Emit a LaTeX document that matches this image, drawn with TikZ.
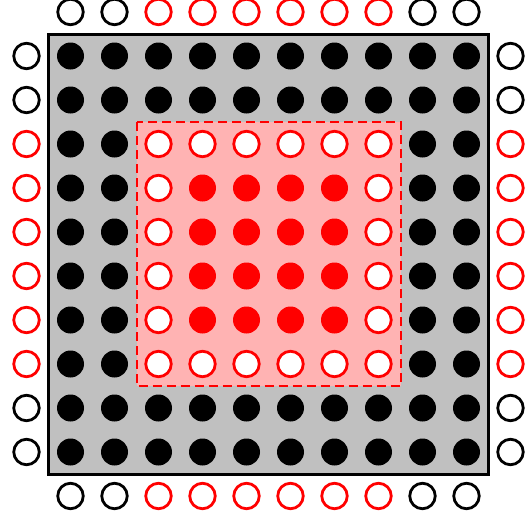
\documentclass[tikz,border=0pt]{standalone}
\usepackage{tikz}
\usetikzlibrary{positioning}
\usepackage{xcolor}
\definecolor{boardgray}{HTML}{C0C0C0}
\definecolor{zonepink}{HTML}{FFB3B3}

\begin{document}
\begin{tikzpicture}[
    x=44pt, y=-44pt,
    soliddot/.style={circle, fill=black, draw=none, inner sep=0pt, minimum size=27pt},
    reddot/.style={circle, fill=red, draw=none, inner sep=0pt, minimum size=27pt},
    redring/.style={circle, fill=white, draw=red, line width=2.8pt, inner sep=0pt, minimum size=25.5pt},
    blackring/.style={circle, fill=white, draw=black, line width=2.8pt, inner sep=0pt, minimum size=25.5pt},
    boardframe/.style={draw=black, fill=boardgray, line width=3pt},
    zoneframe/.style={draw=red, fill=zonepink, line width=2pt, dash pattern=on 9pt off 5pt}
]

    % Cornice della figura
    \useasboundingbox (-1.6023,-1.2727) rectangle (10.4205,10.5455);

    % Sfondi (disegnati per primi)
    \draw[boardframe] (-0.5,-0.5) rectangle (9.5,9.5);
    \draw[zoneframe] (1.5,1.5) rectangle (7.5,7.5);

    % Griglia interna 10x10
    \foreach \i in {0,...,9} {
        \foreach \j in {0,...,9} {
            \pgfmathtruncatemacro{\ring}{(\i>1)&&(\i<8)&&(\j>1)&&(\j<8)}
            \pgfmathtruncatemacro{\core}{(\i>2)&&(\i<7)&&(\j>2)&&(\j<7)}
            \ifnum\core=1
                \node[reddot] (c-\i-\j) at (\i,\j) {};
            \else\ifnum\ring=1
                \node[redring] (c-\i-\j) at (\i,\j) {};
            \else
                \node[soliddot] (c-\i-\j) at (\i,\j) {};
            \fi\fi
        }
    }

    % Anelli esterni sui quattro lati
    \foreach \k in {0,...,9} {
        \pgfmathtruncatemacro{\mid}{(\k>1)&&(\k<8)}
        \ifnum\mid=1
            \def\ringstyle{redring}
        \else
            \def\ringstyle{blackring}
        \fi
        \node[\ringstyle] (top-\k) at (\k,-1) {};
        \node[\ringstyle] (bot-\k) at (\k,10) {};
        \node[\ringstyle] (left-\k) at (-1,\k) {};
        \node[\ringstyle] (right-\k) at (10,\k) {};
    }

\end{tikzpicture}
\end{document}
